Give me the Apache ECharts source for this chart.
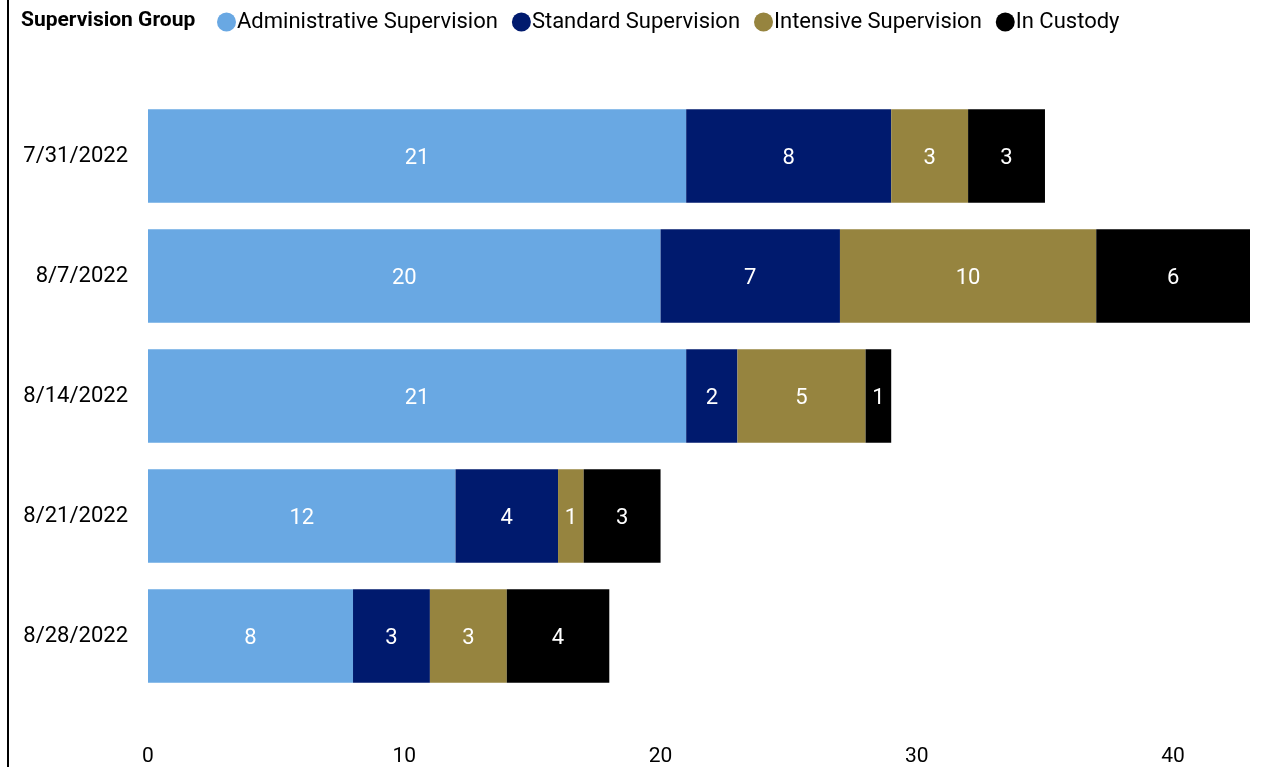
<!DOCTYPE html>
<html><head><meta charset="utf-8">
<script src="https://cdn.jsdelivr.net/npm/echarts@6/dist/echarts.min.js"></script>
<style>html,body{margin:0;padding:0;background:#fff}#c{width:1271px;height:767px}</style>
</head><body><div id="c"></div>
<script>
const categories = ['7/31/2022','8/7/2022','8/14/2022','8/21/2022','8/28/2022'];
const administrative = [21,20,21,12,8];
const standard = [8,7,2,4,3];
const intensive = [3,10,5,1,3];
const custody = [3,6,1,3,4];
const seriesNames = ['Administrative Supervision','Standard Supervision','Intensive Supervision','In Custody'];
const colors = ['#69A8E3','#001A6E','#96843F','#000000'];
const FONT = 'Roboto';
const chart = echarts.init(document.getElementById('c'));
const mk = (name, data, color) => ({
  name, type:'bar', stack:'t', data, barCategoryGap:'22%',
  itemStyle:{color},
  label:{show:true, position:'inside', color:'#fff', fontFamily:FONT, fontSize:22, offset:[0,2]},
  emphasis:{disabled:true}
});
chart.setOption({
  animation:false,
  textStyle:{fontFamily:FONT},
  title:{text:'Supervision Group', left:16, top:5, textStyle:{fontFamily:FONT, fontWeight:'bold', fontSize:21, color:'#000'}},
  legend:{left:212, top:6, icon:'circle', itemWidth:19, itemHeight:19, itemGap:14,
    textStyle:{fontFamily:FONT, fontSize:22, color:'#000', padding:[0,0,0,-4]}, data:seriesNames},
  graphic:[{type:'rect', left:7, top:0, shape:{width:2, height:767}, style:{fill:'#000'}}],
  grid:{left:148, right:21, top:96, bottom:71},
  xAxis:{type:'value', min:0, max:43, interval:10,
    axisLine:{show:false}, axisTick:{show:false}, splitLine:{show:false},
    axisLabel:{margin:50, fontFamily:FONT, fontSize:21, color:'#000',
      formatter:v => v%10===0 ? v : ''}},
  yAxis:{type:'category', inverse:true, data:categories,
    axisLine:{show:false}, axisTick:{show:false},
    axisLabel:{margin:20, fontFamily:FONT, fontSize:22, color:'#000', padding:[4,0,0,0]}},
  series:[mk(seriesNames[0],administrative,colors[0]), mk(seriesNames[1],standard,colors[1]),
          mk(seriesNames[2],intensive,colors[2]), mk(seriesNames[3],custody,colors[3])]
});
</script></body></html>
